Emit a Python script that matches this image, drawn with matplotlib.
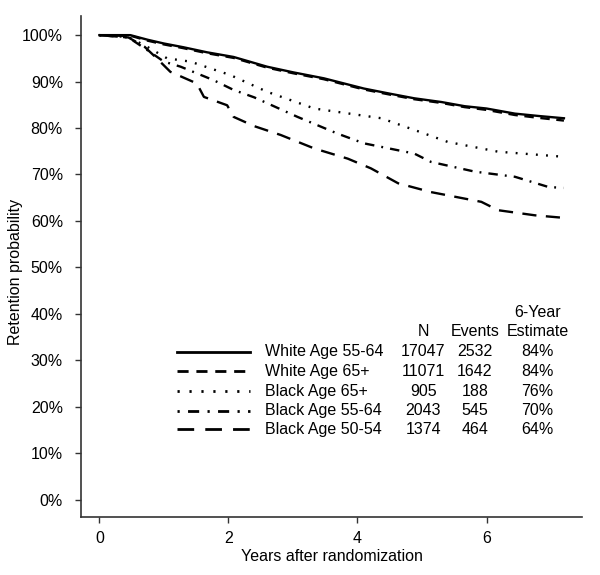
import matplotlib.pyplot as plt
from matplotlib.ticker import PercentFormatter

plt.rcParams['font.family'] = ['Liberation Sans', 'DejaVu Sans']
plt.rcParams['font.size'] = 11.5

# retention curves (years, percent)
white_55_x = [0, 0.48, 0.75, 1.0, 1.3, 1.67, 2.08, 2.6, 3.0, 3.48, 4.1, 4.5, 4.88, 5.3, 5.66, 6.0, 6.44, 6.8, 7.2]
white_55_y = [100, 100, 99.0, 98.2, 97.4, 96.3, 95.3, 93.2, 92.0, 90.7, 88.5, 87.4, 86.4, 85.6, 84.7, 84.2, 83.1, 82.6, 82.1]

white_65_x = [0, 0.5, 0.75, 1.0, 1.3, 1.67, 2.08, 2.6, 3.0, 3.48, 4.1, 4.5, 4.88, 5.3, 5.66, 6.0, 6.44, 6.8, 7.2]
white_65_y = [100, 99.8, 98.8, 98.0, 97.2, 96.1, 95.1, 93.0, 91.8, 90.5, 88.3, 87.2, 86.2, 85.4, 84.5, 83.9, 82.8, 82.2, 81.6]

black_65_x = [0, 0.45, 0.74, 1.05, 1.41, 2.03, 2.6, 3.33, 4.37, 5.04, 5.4, 6.18, 7.11]
black_65_y = [100, 99.6, 97.5, 95.0, 94.3, 91.4, 87.8, 84.2, 82.1, 78.8, 77.0, 74.9, 73.9]

black_55_x = [0, 0.45, 0.74, 1.0, 1.26, 1.77, 2.08, 2.4, 3.07, 3.69, 4.1, 4.88, 5.14, 5.82, 6.44, 6.96, 7.19]
black_55_y = [100, 99.5, 96.8, 94.3, 93.2, 90.3, 88.2, 86.6, 82.4, 78.8, 76.7, 74.5, 72.7, 70.6, 69.5, 67.3, 67.1]

black_50_x = [0, 0.45, 0.7, 0.89, 1.1, 1.51, 1.62, 1.98, 2.08, 2.4, 2.81, 3.33, 3.85, 4.21, 4.63, 5.14, 5.92, 6.18, 6.75, 7.16]
black_50_y = [100, 99.5, 97.5, 95.0, 92.1, 89.6, 86.7, 84.9, 82.4, 80.4, 78.5, 75.6, 73.4, 71.3, 68.1, 66.2, 64.1, 62.3, 61.2, 60.7]

groups = ['White Age 55-64', 'White Age 65+', 'Black Age 65+', 'Black Age 55-64', 'Black Age 50-54']
n_vals = ['17047', '11071', '905', '2043', '1374']
events = ['2532', '1642', '188', '545', '464']
estimates = ['84%', '84%', '76%', '70%', '64%']

styles = ['-', (0, (4, 2.8)), (0, (0.8, 3.5)), (0, (0.8, 3, 4, 3)), (0, (6, 4))]
curves = [(white_55_x, white_55_y), (white_65_x, white_65_y), (black_65_x, black_65_y),
          (black_55_x, black_55_y), (black_50_x, black_50_y)]

fig = plt.figure(figsize=(6, 5.75), dpi=100)
ax = fig.add_axes([0.135, 0.101, 0.835, 0.871])

for (xs, ys), ls in zip(curves, styles):
    ax.plot(xs, ys, color='black', lw=1.7, ls=ls)

ax.set_xlim(-0.285, 7.48)
ax.set_ylim(-3.75, 104.1)
ax.set_xticks([0, 2, 4, 6])
ax.set_yticks(range(0, 101, 10))
ax.yaxis.set_major_formatter(PercentFormatter(decimals=0))
ax.spines['top'].set_visible(False)
ax.spines['right'].set_visible(False)
for s in ['left', 'bottom']:
    ax.spines[s].set_color('#333333')
    ax.spines[s].set_linewidth(1.2)
ax.tick_params(axis='y', length=4, width=1, color='#333333', pad=9)
ax.tick_params(axis='x', length=4, width=1, color='#333333', pad=6)
ax.set_xlabel('Years after randomization', labelpad=2)
ax.set_ylabel('Retention probability')
ax.yaxis.set_label_coords(-0.115, 0.49)

# legend table in axes data coords
row_y = [31.8, 27.6, 23.3, 19.1, 15.1]
head_y = 36.1
x_line0, x_line1 = 1.2, 2.34
x_lab = 2.56
x_n, x_ev, x_est = 5.02, 5.82, 6.79

ax.text(x_n, head_y, 'N', ha='center', va='center')
ax.text(x_ev, head_y, 'Events', ha='center', va='center')
ax.text(x_est, head_y, 'Estimate', ha='center', va='center')
ax.text(x_est, head_y + 4.2, '6-Year', ha='center', va='center')
for i in range(len(groups)):
    y = row_y[i]
    ax.plot([x_line0, x_line1], [y, y], color='black', lw=2.0, ls=styles[i])
    ax.text(x_lab, y, groups[i], ha='left', va='center')
    ax.text(x_n, y, n_vals[i], ha='center', va='center')
    ax.text(x_ev, y, events[i], ha='center', va='center')
    ax.text(x_est, y, estimates[i], ha='center', va='center')

fig.savefig('out.png', dpi=100)
